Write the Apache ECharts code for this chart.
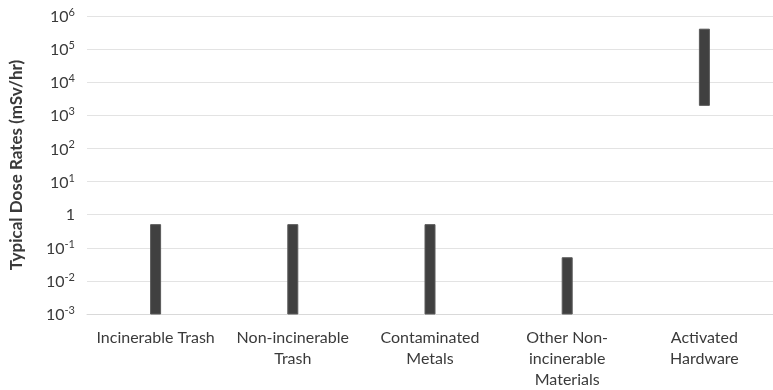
<!DOCTYPE html>
<html>
<head>
<meta charset="utf-8">
<script src="https://cdn.jsdelivr.net/npm/echarts@6/dist/echarts.min.js"></script>
<style>
  html, body { margin: 0; padding: 0; background: #fff; }
  #chart { width: 773px; height: 390px; }
</style>
</head>
<body>
<div id="chart"></div>
<script>
// Waste categories (tick labels, with line breaks as shown on the axis)
const categories = [
  'Incinerable Trash',
  'Non-incinerable\nTrash',
  'Contaminated\nMetals',
  'Other Non-\nincinerable\nMaterials',
  'Activated\nHardware'
];
// Lower and upper ends of the typical dose-rate range, mSv/hr
const lowValues  = [0.001, 0.001, 0.001, 0.001, 2000];
const highValues = [0.5,   0.5,   0.5,   0.05,  400000];

const rangeData = categories.map((c, i) => [i, lowValues[i], highValues[i]]);

const textColor = '#3a3a3a';
const fontFamily = 'Lato, "Open Sans", sans-serif';

const chart = echarts.init(document.getElementById('chart'), null, { renderer: 'canvas' });

chart.setOption({
  animation: false,
  backgroundColor: '#ffffff',
  grid: { left: 85, right: 0, top: 16, bottom: 76, containLabel: false },
  xAxis: {
    type: 'category',
    data: categories,
    axisLine: { show: true, lineStyle: { color: '#d9d9d9', width: 1 } },
    axisTick: { show: false },
    axisLabel: {
      color: textColor,
      fontFamily: fontFamily,
      fontSize: 16,
      lineHeight: 21,
      margin: 13,
      interval: 0
    },
    splitLine: { show: false }
  },
  yAxis: {
    type: 'log',
    logBase: 10,
    min: 0.001,
    max: 1000000,
    interval: 1,
    name: 'Typical Dose Rates (mSv/hr)',
    nameLocation: 'middle',
    nameRotate: 90,
    nameGap: 62,
    nameTextStyle: {
      color: textColor,
      fontFamily: fontFamily,
      fontSize: 17,
      fontWeight: 'bold'
    },
    axisLine: { show: false },
    axisTick: { show: false },
    splitLine: { show: true, lineStyle: { color: '#e3e3e3', width: 1 } },
    axisLabel: {
      margin: 12,
      color: textColor,
      fontFamily: fontFamily,
      formatter: function (v) {
        const e = Math.round(Math.log10(v));
        if (e === 0) return '{one|1}';
        return '{b|10}{s|' + e + '}';
      },
      rich: {
        b: { fontSize: 16, fontFamily: fontFamily, color: textColor, verticalAlign: 'bottom', lineHeight: 18 },
        s: { fontSize: 11, fontFamily: fontFamily, color: textColor, verticalAlign: 'top', lineHeight: 18, padding: [0, 0, 6, 0] },
        one: { fontSize: 16, fontFamily: fontFamily, color: textColor }
      }
    }
  },
  series: [{
    type: 'custom',
    data: rangeData,
    encode: { x: 0, y: [1, 2] },
    renderItem: function (params, api) {
      const idx = api.value(0);
      const lo = api.coord([idx, api.value(1)]);
      const hi = api.coord([idx, api.value(2)]);
      const w = 10;
      return {
        type: 'rect',
        shape: { x: lo[0] - w / 2, y: hi[1], width: w, height: lo[1] - hi[1] },
        style: { fill: '#404040', stroke: '#5a5a5a', lineWidth: 1 }
      };
    }
  }]
});
</script>
</body>
</html>
